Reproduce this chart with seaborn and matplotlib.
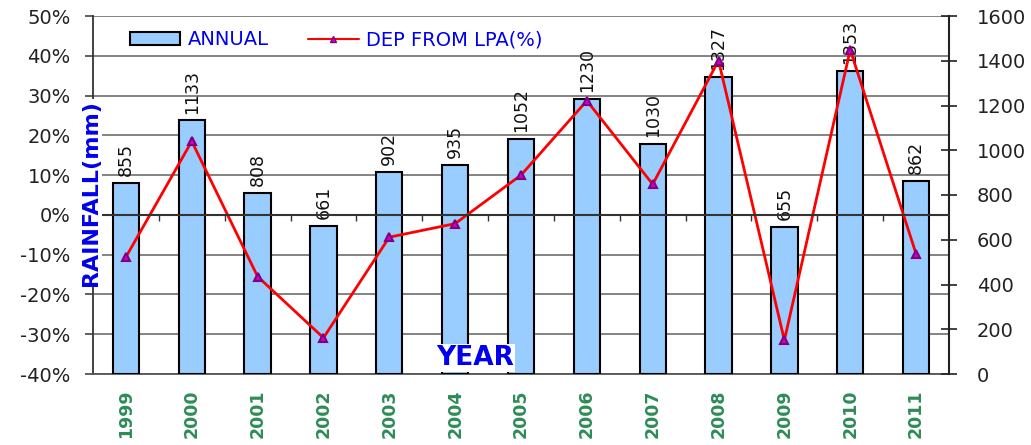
import numpy as np
import matplotlib
matplotlib.use("Agg")
import matplotlib.pyplot as plt
import matplotlib.patches as mpatches
from matplotlib.lines import Line2D
from matplotlib.ticker import FixedLocator, FuncFormatter
import seaborn as sns

# 数据
years = ["1999", "2000", "2001", "2002", "2003", "2004", "2005",
         "2006", "2007", "2008", "2009", "2010", "2011"]
annual = [855, 1133, 808, 661, 902, 935, 1052, 1230, 1030, 1327, 655, 1353, 862]
dep_lpa = [-10.6, 18.5, -15.5, -30.9, -5.6, -2.2, 10.0, 28.7, 7.7, 38.8, -31.5, 41.5, -9.8]

pct_ticks = list(range(-40, 51, 10))
mm_ticks = list(range(0, 1601, 200))

bar_color = "#99CCFF"
line_color = "#FF0000"
marker_color = "#CC00CC"
text_blue = "#0000EE"
year_green = "#2E8B57"

sns.set_style("white")
plt.rcParams["font.family"] = ["DejaVu Sans"]

fig, ax = plt.subplots(figsize=(10.31, 4.45), dpi=100)
fig.subplots_adjust(left=93 / 1031, right=949 / 1031, bottom=1 - 374 / 445, top=1 - 16 / 445)

# 左轴: 网格 + 百分比刻度
ax.set_ylim(-40, 50)
ax.set_yticks(pct_ticks)
ax.yaxis.set_major_formatter(FuncFormatter(lambda v, p: f"{int(v)}%"))
ax.yaxis.grid(True, color="#7a7a7a", linewidth=1.3)
ax.tick_params(axis="y", direction="out", length=6, width=1.2, pad=10,
               labelsize=14, labelcolor="#222222", left=True, color="#444444")
for s in ["top", "right"]:
    ax.spines[s].set_visible(False)
ax.spines["left"].set_color("#333333")
ax.spines["bottom"].set_color("#555555")
ax.spines["left"].set_linewidth(1.3)
ax.spines["bottom"].set_linewidth(1.3)

# 右轴: 柱状图 (年降雨量)
ax2 = ax.twinx()
sns.barplot(x=years, y=annual, ax=ax2, color=bar_color, edgecolor="black",
            linewidth=1.5, width=0.4, saturation=1)
ax2.set_ylim(0, 1600)
ax2.set_yticks(mm_ticks)
ax2.tick_params(axis="y", direction="inout", length=12, width=1.2, pad=14,
                labelsize=14, labelcolor="#222222", right=True, color="#222222")
ax2.bar_label(ax2.containers[0], rotation=90, padding=5, fontsize=12.5, color="#111111")
for s in ["top", "left", "bottom"]:
    ax2.spines[s].set_visible(False)
ax2.spines["right"].set_color("#222222")
ax2.spines["right"].set_linewidth(1.5)
ax2.set_ylabel("")

# 折线: 距平百分比
ax3 = ax.twinx()
sns.pointplot(x=years, y=dep_lpa, ax=ax3, color=line_color, markers="^",
              linestyles="-", errorbar=None, markersize=6, linewidth=2)
for ln in ax3.lines:
    ln.set_markerfacecolor(marker_color)
    ln.set_markeredgecolor("#800080")
ax3.set_ylim(-40, 50)
ax3.set_yticks([])
for s in ["top", "left", "right"]:
    ax3.spines[s].set_visible(False)
ax3.spines["bottom"].set_position(("data", 0))
ax3.spines["bottom"].set_color("#333333")
ax3.spines["bottom"].set_linewidth(1.5)

# 0% 线上的分隔刻度
ax.xaxis.set_minor_locator(FixedLocator(np.arange(0.5, len(years) - 1, 1)))
ax3.xaxis.set_visible(True)
ax3.tick_params(axis="x", which="major", bottom=False, top=False, labelbottom=False)
ax3.tick_params(axis="x", which="minor", bottom=True, top=False, direction="out",
                length=4, width=1, color="#333333")

# x 轴年份
ax.set_xticks(range(len(years)))
ax.set_xticklabels(years, rotation=90, fontweight="bold", color=year_green, fontsize=12.5)
ax.tick_params(axis="x", which="major", bottom=False, pad=8)
ax.tick_params(axis="x", which="minor", bottom=False)
ax.set_xlim(-0.5, len(years) - 0.5)
ax.set_xlabel("")

# 图例
handles = [mpatches.Patch(facecolor=bar_color, edgecolor="black", linewidth=1.5),
           Line2D([], [], color=line_color, linewidth=1.5, marker="^",
                  markerfacecolor=marker_color, markeredgecolor="#800080", markersize=5)]
ax3.legend(handles, ["ANNUAL", "DEP FROM LPA(%)"], loc="center left",
           bbox_to_anchor=(0.043, 0.933), ncol=2, frameon=False, labelcolor=text_blue,
           fontsize=14, handlelength=2.6, columnspacing=2.0, handletextpad=0.4,
           borderpad=0, borderaxespad=0)

# 标签文字
fig.text(91 / 1031, 1 - 193 / 445, "RAINFALL(mm)", rotation=90, ha="center", va="center",
         color=text_blue, fontsize=16, fontweight="bold",
         bbox=dict(facecolor="white", edgecolor="none", pad=1))
fig.text(475 / 1031, 1 - 358 / 445, "YEAR", ha="center", va="center",
         color=text_blue, fontsize=19, fontweight="bold",
         bbox=dict(facecolor="white", edgecolor="none", pad=1))

fig.savefig("out.png", dpi=100)
